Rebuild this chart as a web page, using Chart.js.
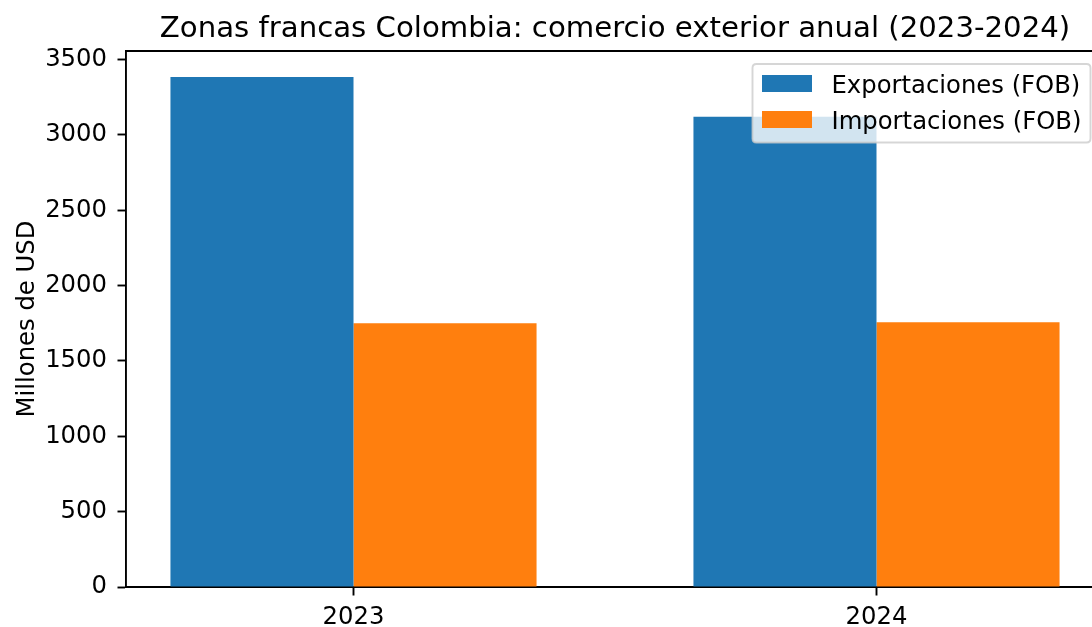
<!DOCTYPE html>
<html>
<head>
<meta charset="utf-8">
<script src="https://cdn.jsdelivr.net/npm/chart.js@4/dist/chart.umd.min.js"></script>
<style>
html,body{margin:0;padding:0;background:#fff;overflow:hidden;}
#wrap{width:1120px;height:627px;}
</style>
</head>
<body>
<div id="wrap"><canvas id="c" width="1120" height="627"></canvas></div>
<script>
const categories = ['2023', '2024'];
const exportaciones = [3385, 3121];
const importaciones = [1750, 1757];
const seriesNames = ['Exportaciones (FOB)', 'Importaciones (FOB)'];
const yTicks = [0, 500, 1000, 1500, 2000, 2500, 3000, 3500];
const titleText = 'Zonas francas Colombia: comercio exterior anual (2023-2024)';
const yLabel = 'Millones de USD';

const FONT = 'DejaVu Sans';
const FS = 24.3;
const TFS = 29.2;
const colors = ['#1f77b4', '#ff7f0e'];

const decor = {
  id: 'decor',
  afterDraw(chart) {
    const ctx = chart.ctx;
    const a = chart.chartArea;
    ctx.save();
    // top + right spine
    ctx.strokeStyle = '#000';
    ctx.lineWidth = 1.9;
    ctx.beginPath();
    ctx.moveTo(a.left - 0.95, a.top);
    ctx.lineTo(a.right + 0.95, a.top);
    ctx.moveTo(a.right, a.top);
    ctx.lineTo(a.right, a.bottom);
    ctx.stroke();
    // title
    ctx.fillStyle = '#000';
    ctx.font = TFS + 'px "' + FONT + '"';
    ctx.textAlign = 'center';
    ctx.textBaseline = 'alphabetic';
    ctx.fillText(titleText, (a.left + a.right) / 2, 36.5);
    // y label
    ctx.save();
    ctx.translate(33.5, (a.top + a.bottom) / 2);
    ctx.rotate(-Math.PI / 2);
    ctx.font = FS + 'px "' + FONT + '"';
    ctx.fillText(yLabel, 0, 0);
    ctx.restore();
    // legend
    const bx = 752.5, by = 64, bw = 338, bh = 78.5, r = 4;
    ctx.beginPath();
    ctx.moveTo(bx + r, by);
    ctx.lineTo(bx + bw - r, by);
    ctx.quadraticCurveTo(bx + bw, by, bx + bw, by + r);
    ctx.lineTo(bx + bw, by + bh - r);
    ctx.quadraticCurveTo(bx + bw, by + bh, bx + bw - r, by + bh);
    ctx.lineTo(bx + r, by + bh);
    ctx.quadraticCurveTo(bx, by + bh, bx, by + bh - r);
    ctx.lineTo(bx, by + r);
    ctx.quadraticCurveTo(bx, by, bx + r, by);
    ctx.closePath();
    ctx.fillStyle = 'rgba(255,255,255,0.8)';
    ctx.fill();
    ctx.strokeStyle = 'rgba(204,204,204,0.8)';
    ctx.lineWidth = 1.9;
    ctx.stroke();
    ctx.font = FS + 'px "' + FONT + '"';
    ctx.textAlign = 'left';
    ctx.textBaseline = 'alphabetic';
    chart.data.datasets.forEach((ds, i) => {
      const cy = 83.5 + i * 36;
      ctx.fillStyle = ds.backgroundColor;
      ctx.fillRect(762, cy - 8.5, 50, 17);
      ctx.fillStyle = '#000';
      ctx.fillText(ds.label, 831.5, cy + 9);
    });
    ctx.restore();
  }
};

new Chart(document.getElementById('c'), {
  type: 'bar',
  data: {
    datasets: [
      { label: seriesNames[0], data: categories.map((c, i) => ({ x: i, y: exportaciones[i] })), backgroundColor: colors[0], borderWidth: 0 },
      { label: seriesNames[1], data: categories.map((c, i) => ({ x: i, y: importaciones[i] })), backgroundColor: colors[1], borderWidth: 0 }
    ]
  },
  options: {
    responsive: false,
    animation: false,
    devicePixelRatio: 1,
    layout: { padding: { left: 0, right: 16, top: 51, bottom: 0 } },
    datasets: { bar: { categoryPercentage: 0.7, barPercentage: 1.0 } },
    plugins: { legend: { display: false }, title: { display: false }, tooltip: { enabled: false } },
    scales: {
      x: {
        type: 'linear',
        min: -0.435,
        max: 1.435,
        offset: false,
        afterBuildTicks: (s) => { s.ticks = categories.map((c, i) => ({ value: i })); },
        afterFit: (s) => { s.height = 40; },
        ticks: {
          callback: (v) => categories[v] !== undefined ? categories[v] : '',
          font: { family: FONT, size: FS },
          color: '#000',
          padding: 8,
          maxRotation: 0,
          autoSkip: false
        },
        grid: { offset: false, drawOnChartArea: false, drawTicks: true, tickLength: 8.5, tickColor: '#000', tickWidth: 1.9 },
        border: { display: true, color: '#000', width: 1.9 }
      },
      y: {
        min: 0,
        max: 3557,
        afterBuildTicks: (s) => { s.ticks = yTicks.map(v => ({ value: v })); },
        afterFit: (s) => { s.width = 126; },
        ticks: {
          font: { family: FONT, size: FS },
          color: '#000',
          padding: 10.5,
          callback: (v) => String(v)
        },
        grid: { drawOnChartArea: false, drawTicks: true, tickLength: 8.5, tickColor: '#000', tickWidth: 1.9 },
        border: { display: true, color: '#000', width: 1.9 }
      }
    }
  },
  plugins: [decor]
});
</script>
</body>
</html>
